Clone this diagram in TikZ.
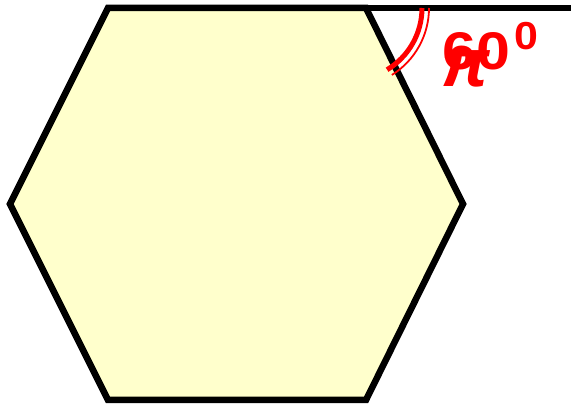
\documentclass[tikz,border=0pt]{standalone}
\usepackage{fontspec}
\setmainfont{Liberation Sans}
\definecolor{hexfill}{HTML}{FFFFCC}
\begin{document}
\begin{tikzpicture}[x=1pt,y=-1pt,
  edge/.style={line width=6.5pt,black,line join=miter},
  lbl/.style={text=red,inner sep=0pt,font=\bfseries}]
\useasboundingbox (0,0) rectangle (571,406);
\coordinate (A) at (108,8);
\coordinate (B) at (366,8);
\coordinate (C) at (463,204);
\coordinate (D) at (366,400);
\coordinate (E) at (108,400);
\coordinate (F) at (10,204);
\coordinate (G) at (571,8);
\filldraw[edge,fill=hexfill] (A) -- (B) -- (C) -- (D) -- (E) -- (F) -- cycle;
\draw[edge] (B) -- (G);
\coordinate (O) at (350,8);
\draw[red,line width=5pt] (O) ++(72,0) arc[start angle=0,end angle=59,radius=72];
\draw[red,line width=1.8pt] (O) ++(79,0) arc[start angle=0,end angle=58,radius=79];
\node[lbl,anchor=base west,xscale=1.15,font=\fontsize{53}{53}\selectfont\bfseries] (sixty) at (442,70) {60};
\node[lbl,anchor=base west,xscale=1.1,font=\fontsize{39}{39}\selectfont\bfseries] (sup) at (514,50) {0};
\node[lbl,anchor=base west,font=\fontsize{68}{68}\selectfont\bfseries\itshape] (pi) at (441,87) {π};
\end{tikzpicture}
\end{document}
